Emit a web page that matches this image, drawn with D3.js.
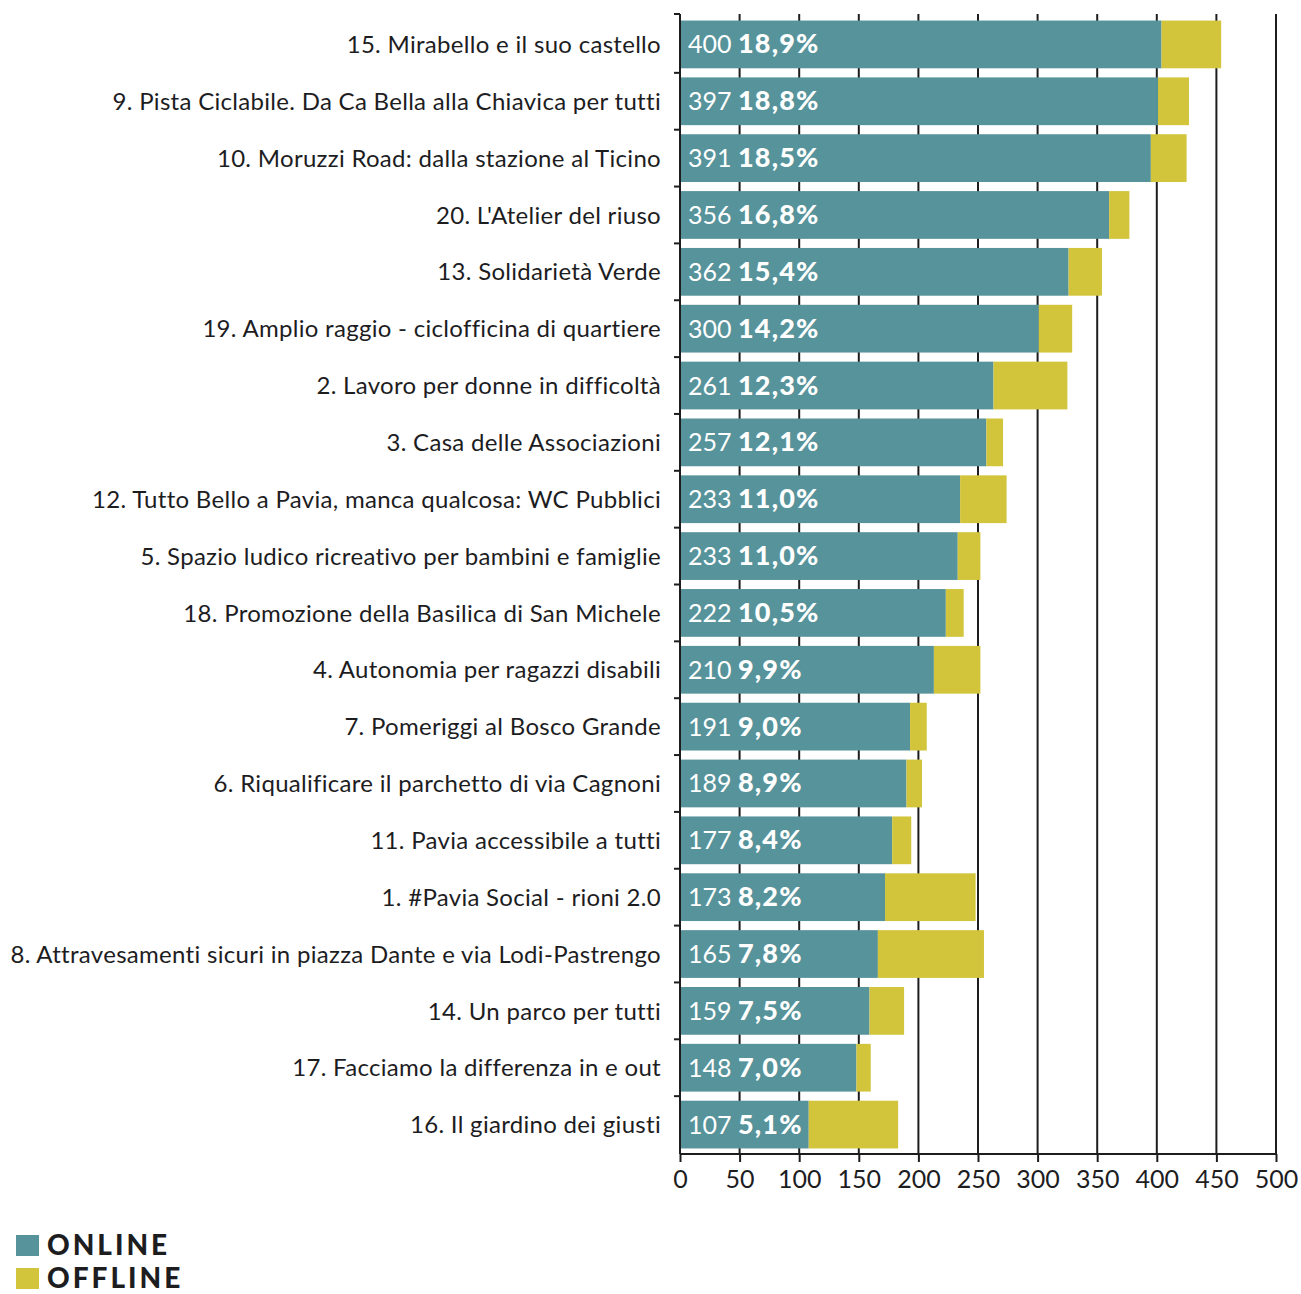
<!DOCTYPE html>
<html>
<head>
<meta charset="utf-8">
<script src="https://cdn.jsdelivr.net/npm/d3@7"></script>
<style>
  body { margin: 0; background: #fff; }
</style>
</head>
<body>
<div id="chart"></div>
<script>
var width = 1301;
var height = 1294;

// progetti, dall'alto in basso
var projects = [
  "15. Mirabello e il suo castello",
  "9. Pista Ciclabile. Da Ca Bella alla Chiavica per tutti",
  "10. Moruzzi Road: dalla stazione al Ticino",
  "20. L'Atelier del riuso",
  "13. Solidarietà Verde",
  "19. Amplio raggio - ciclofficina di quartiere",
  "2. Lavoro per donne in difficoltà",
  "3. Casa delle Associazioni",
  "12. Tutto Bello a Pavia, manca qualcosa: WC Pubblici",
  "5. Spazio ludico ricreativo per bambini e famiglie",
  "18. Promozione della Basilica di San Michele",
  "4. Autonomia per ragazzi disabili",
  "7. Pomeriggi al Bosco Grande",
  "6. Riqualificare il parchetto di via Cagnoni",
  "11. Pavia accessibile a tutti",
  "1. #Pavia Social - rioni 2.0",
  "8. Attravesamenti sicuri in piazza Dante e via Lodi-Pastrengo",
  "14. Un parco per tutti",
  "17. Facciamo la differenza in e out",
  "16. Il giardino dei giusti"
];

var online = [404, 401, 395, 360, 326, 301, 263, 257, 235, 233, 223, 213, 193, 190, 178, 172, 166, 159, 148, 108];
var offline = [50, 26, 30, 17, 28, 28, 62, 14, 39, 19, 15, 39, 14, 13, 16, 76, 89, 29, 12, 75];

// testi delle etichette come stampati nel grafico
var onlineLabels = ["400", "397", "391", "356", "362", "300", "261", "257", "233", "233", "222", "210", "191", "189", "177", "173", "165", "159", "148", "107"];
var percentLabels = ["18,9%", "18,8%", "18,5%", "16,8%", "15,4%", "14,2%", "12,3%", "12,1%", "11,0%", "11,0%", "10,5%", "9,9%", "9,0%", "8,9%", "8,4%", "8,2%", "7,8%", "7,5%", "7,0%", "5,1%"];

var xTicks = [0, 50, 100, 150, 200, 250, 300, 350, 400, 450, 500];

var legendItems = ["ONLINE", "OFFLINE"];

var tealColor = "#57939b";
var yellowColor = "#d2c53c";
var inkColor = "#1d1d1f";
var font = "Lato, 'Open Sans', sans-serif";

var svg = d3.select("#chart")
    .append("svg")
    .attr("width", width)
    .attr("height", height)
    .attr("font-family", font);

var x = d3.scaleLinear()
    .domain([0, 500])
    .range([680, 1276]);

var y = d3.scaleBand()
    .domain(projects)
    .range([16, 1153])
    .paddingInner(0.16)
    .paddingOuter(0.08);

var plotTop = 14, plotBottom = 1154;

// griglia verticale
svg.append("g")
  .selectAll("line")
  .data(xTicks.slice(1))
  .enter().append("line")
    .attr("x1", function(d) { return x(d); })
    .attr("x2", function(d) { return x(d); })
    .attr("y1", plotTop)
    .attr("y2", plotBottom)
    .attr("stroke", inkColor)
    .attr("stroke-width", 2);

var rows = projects.map(function(p, i) {
  return { name: p, on: online[i], off: offline[i], lab: onlineLabels[i], pct: percentLabels[i] };
});

var row = svg.append("g").selectAll("g")
    .data(rows)
    .enter().append("g");

row.append("rect")
    .attr("x", x(0))
    .attr("y", function(d) { return y(d.name); })
    .attr("width", function(d) { return x(d.on) - x(0); })
    .attr("height", y.bandwidth())
    .attr("fill", tealColor);

row.append("rect")
    .attr("x", function(d) { return x(d.on); })
    .attr("y", function(d) { return y(d.name); })
    .attr("width", function(d) { return x(d.on + d.off) - x(d.on); })
    .attr("height", y.bandwidth())
    .attr("fill", yellowColor);

var barText = row.append("text")
    .attr("x", x(0) + 8)
    .attr("y", function(d) { return y(d.name) + y.bandwidth() / 2; })
    .attr("dy", "0.36em")
    .attr("fill", "#fff")
    .attr("font-size", 25);

barText.append("tspan")
    .text(function(d) { return d.lab + " "; });

barText.append("tspan")
    .attr("font-weight", 900)
    .attr("font-size", 27)
    .attr("letter-spacing", 1.2)
    .text(function(d) { return d.pct; });

// etichette dei progetti
row.append("text")
    .attr("x", 661)
    .attr("y", function(d) { return y(d.name) + y.bandwidth() / 2; })
    .attr("dy", "0.36em")
    .attr("text-anchor", "end")
    .attr("fill", inkColor)
    .attr("font-size", 24)
    .attr("letter-spacing", 0.3)
    .text(function(d) { return d.name; });

// asse y con tacche tra le categorie
var gap = y.step() * y.paddingInner();
var yTickPos = [plotTop].concat(projects.slice(1).map(function(p) { return y(p) - gap / 2; }));

svg.append("line")
    .attr("x1", x(0)).attr("x2", x(0))
    .attr("y1", plotTop).attr("y2", plotBottom)
    .attr("stroke", inkColor)
    .attr("stroke-width", 2);

svg.append("g")
  .selectAll("line")
  .data(yTickPos)
  .enter().append("line")
    .attr("x1", x(0) - 6)
    .attr("x2", x(0))
    .attr("y1", function(d) { return d; })
    .attr("y2", function(d) { return d; })
    .attr("stroke", inkColor)
    .attr("stroke-width", 2);

// asse x
var xAxis = svg.append("g")
    .attr("transform", "translate(0," + plotBottom + ")")
    .call(d3.axisBottom(x).tickValues(xTicks).tickSize(8).tickPadding(8).tickFormat(d3.format("d")));

xAxis.select(".domain").attr("stroke", inkColor).attr("stroke-width", 2)
    .attr("d", "M" + x(0) + ",0H" + x(500));
xAxis.selectAll(".tick line").attr("stroke", inkColor).attr("stroke-width", 2);
xAxis.selectAll(".tick text")
    .attr("fill", inkColor)
    .attr("font-family", font)
    .attr("font-size", 25);

// legenda
var legendColors = [tealColor, yellowColor];
var legend = svg.append("g").selectAll("g")
    .data(legendItems)
    .enter().append("g")
    .attr("transform", function(d, i) { return "translate(16," + (1235 + i * 33) + ")"; });

legend.append("rect")
    .attr("width", 23)
    .attr("height", 21)
    .attr("fill", function(d, i) { return legendColors[i]; });

legend.append("text")
    .attr("x", 31)
    .attr("y", 20)
    .attr("font-size", 28)
    .attr("font-weight", 900)
    .attr("letter-spacing", 3)
    .attr("fill", inkColor)
    .text(function(d) { return d; });
</script>
</body>
</html>
